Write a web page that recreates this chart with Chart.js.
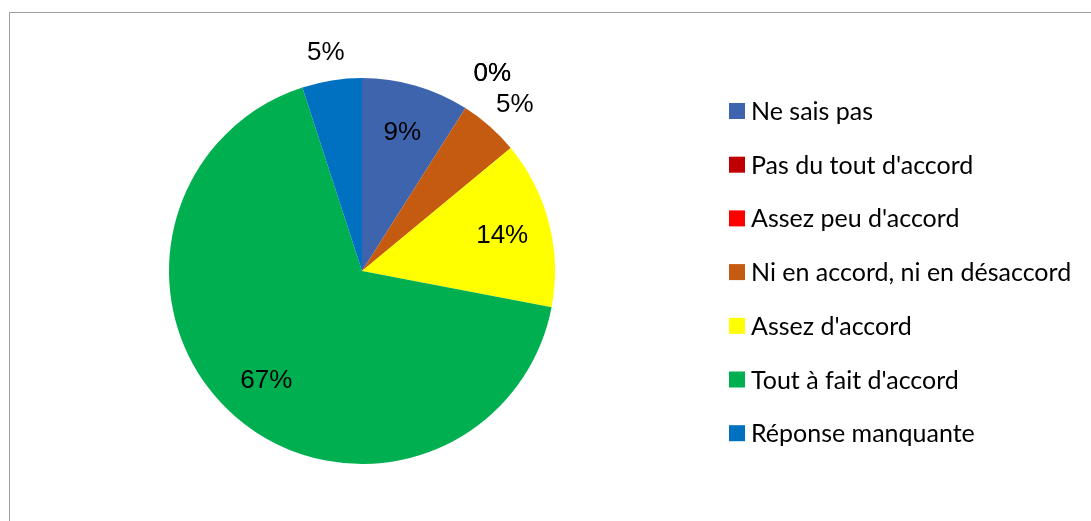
<!DOCTYPE html>
<html>
<head>
<meta charset="utf-8">
<script src="https://cdn.jsdelivr.net/npm/chart.js@4.4.1/dist/chart.umd.min.js"></script>
<style>
  html, body { margin: 0; padding: 0; background: #fff; overflow: hidden; }
  #wrap { position: relative; width: 1091px; height: 521px; }
  #frame { position: absolute; left: 9px; top: 12px; width: 1100px; height: 540px; border: 1px solid #a0a0a0; box-sizing: border-box; }
  canvas { position: absolute; left: 0; top: 0; }
</style>
</head>
<body>
<div id="wrap">
  <div id="frame"></div>
  <canvas id="pieChart" width="1091" height="521"></canvas>
</div>
<script>
const categories = ['Ne sais pas', "Pas du tout d'accord", "Assez peu d'accord", 'Ni en accord, ni en désaccord', "Assez d'accord", "Tout à fait d'accord", 'Réponse manquante'];
const percentages = [9, 0, 0, 5, 14, 67, 5];
const sliceColors = ['#3F64AE', '#C00000', '#FF0000', '#C55A11', '#FFFF00', '#00B050', '#0070C0'];

// percentage labels: inside for big slices, outside for small ones
const sliceLabels = {
    id: 'sliceLabels',
    afterDatasetsDraw(chart) {
        const ctx = chart.ctx;
        const meta = chart.getDatasetMeta(0);
        ctx.save();
        ctx.font = '26px "Liberation Sans", Arial, sans-serif';
        ctx.fillStyle = '#000';
        ctx.textAlign = 'center';
        ctx.textBaseline = 'middle';
        meta.data.forEach((arc, i) => {
            const p = arc.getProps(['x', 'y', 'startAngle', 'endAngle', 'outerRadius'], true);
            const mid = (p.startAngle + p.endAngle) / 2;
            const text = percentages[i] + '%';
            let x, y;
            if (percentages[i] > 5) {
                const d = p.outerRadius * 0.75;
                x = p.x + Math.cos(mid) * d;
                y = p.y + Math.sin(mid) * d;
            } else {
                // outside end: push the label box off the edge
                const d = p.outerRadius * 1.1 + (percentages[i] === 0 ? 12 : 0);
                const w = ctx.measureText(text).width;
                x = p.x + Math.cos(mid) * d + Math.cos(mid) * w / 2;
                y = p.y + Math.sin(mid) * d + Math.sin(mid) * 10;
            }
            ctx.fillText(text, x, y + 1);
        });
        ctx.restore();
    }
};

// legend drawn on the right
const sideLegend = {
    id: 'sideLegend',
    afterDraw(chart) {
        const ctx = chart.ctx;
        ctx.save();
        ctx.font = '25px Lato, "Open Sans", sans-serif';
        ctx.textBaseline = 'middle';
        ctx.textAlign = 'left';
        chart.data.labels.forEach((label, i) => {
            const cy = 111 + i * 53.7;
            ctx.fillStyle = sliceColors[i];
            ctx.fillRect(729, cy - 8, 16, 16);
            ctx.fillStyle = '#000';
            ctx.fillText(label, 751, cy + 1);
        });
        ctx.restore();
    }
};

const ctx = document.getElementById('pieChart').getContext('2d');
new Chart(ctx, {
    type: 'pie',
    data: {
        labels: categories,
        datasets: [{
            data: percentages,
            backgroundColor: sliceColors,
            borderWidth: 0
        }]
    },
    options: {
        responsive: false,
        animation: false,
        layout: { padding: { left: 169, top: 78, right: 536, bottom: 57 } },
        plugins: {
            legend: { display: false },
            tooltip: { enabled: false }
        }
    },
    plugins: [sliceLabels, sideLegend]
});
</script>
</body>
</html>
